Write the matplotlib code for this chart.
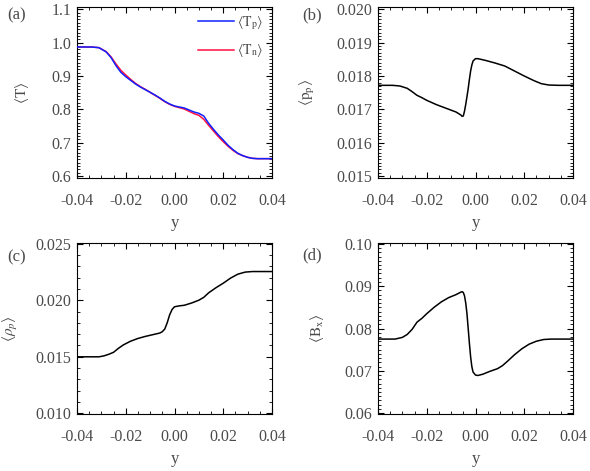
import matplotlib
matplotlib.use('Agg')
import matplotlib.pyplot as plt
from matplotlib.ticker import AutoMinorLocator, MultipleLocator, FuncFormatter

# values
y_a = [-0.040, -0.034, -0.031, -0.028, -0.026, -0.024, -0.022, -0.020, -0.018,
       -0.016, -0.014, -0.012, -0.010, -0.008, -0.006, -0.004, -0.002, 0.000,
       0.002, 0.004, 0.006, 0.008, 0.010, 0.012, 0.014, 0.016, 0.018, 0.020,
       0.022, 0.024, 0.026, 0.028, 0.030, 0.032, 0.034, 0.040]
t_p = [0.987, 0.987, 0.985, 0.972, 0.955, 0.931, 0.911, 0.898, 0.887,
       0.876, 0.867, 0.859, 0.851, 0.843, 0.834, 0.824, 0.816, 0.810,
       0.807, 0.804, 0.798, 0.792, 0.788, 0.780, 0.758, 0.740, 0.723, 0.708,
       0.692, 0.679, 0.668, 0.661, 0.656, 0.653, 0.652, 0.652]
t_n = [0.987, 0.987, 0.985, 0.973, 0.957, 0.936, 0.917, 0.903, 0.890,
       0.878, 0.868, 0.860, 0.851, 0.842, 0.833, 0.823, 0.815, 0.809,
       0.805, 0.801, 0.794, 0.787, 0.782, 0.770, 0.752, 0.735, 0.718, 0.703,
       0.689, 0.677, 0.667, 0.661, 0.656, 0.653, 0.652, 0.652]

y_b = [-0.040, -0.034, -0.031, -0.028, -0.026, -0.024, -0.022, -0.020, -0.016,
       -0.012, -0.008, -0.006, -0.0055, -0.0050, -0.0045, -0.0040, -0.0035,
       -0.0030, -0.0025, -0.0020, -0.0015, -0.0010, 0.000, 0.001, 0.004, 0.008,
       0.012, 0.016, 0.020, 0.024, 0.027, 0.030, 0.034, 0.040]
p_p = [0.01772, 0.01772, 0.01770, 0.01763, 0.01753, 0.01742, 0.01735, 0.01727, 0.01714,
       0.01703, 0.01692, 0.01683, 0.01679, 0.01680, 0.01695, 0.01715, 0.01738,
       0.01762, 0.01790, 0.01815, 0.01833, 0.01845, 0.01852, 0.01852, 0.01847, 0.01839,
       0.01830, 0.01815, 0.01800, 0.01786, 0.01777, 0.01773, 0.01772, 0.01772]

y_c = [-0.040, -0.031, -0.029, -0.027, -0.025, -0.023, -0.021, -0.018, -0.015,
       -0.012, -0.009, -0.006, -0.005, -0.004, -0.003, -0.002, -0.001, 0.000,
       0.002, 0.004, 0.007, 0.010, 0.012, 0.014, 0.017, 0.020, 0.023, 0.026,
       0.029, 0.032, 0.040]
rho_p = [0.01500, 0.01500, 0.01508, 0.01522, 0.01540, 0.01575, 0.01605, 0.01638, 0.01662,
         0.01680, 0.01695, 0.01710, 0.01722, 0.01745, 0.01800, 0.01870, 0.01918, 0.01942,
         0.01950, 0.01955, 0.01975, 0.02000, 0.02025, 0.02065, 0.02110, 0.02150, 0.02195, 0.02230,
         0.02248, 0.02253, 0.02253]

y_d = [-0.040, -0.033, -0.030, -0.028, -0.026, -0.024, -0.022, -0.020, -0.017,
       -0.014, -0.011, -0.008, -0.006, -0.0055, -0.0050, -0.0045, -0.0040, -0.0035,
       -0.0030, -0.0025, -0.0020, -0.0015, -0.0010, 0.000, 0.001, 0.003, 0.006,
       0.009, 0.011, 0.013, 0.016, 0.019, 0.022, 0.025, 0.028, 0.031, 0.040]
b_x = [0.0775, 0.0775, 0.0779, 0.0786, 0.0798, 0.0815, 0.0824, 0.0835, 0.0850,
       0.0863, 0.0873, 0.0880, 0.0886, 0.0887, 0.0885, 0.0877, 0.0860, 0.0835,
       0.0800, 0.0765, 0.0733, 0.0710, 0.0697, 0.0690, 0.0689, 0.0692, 0.0699,
       0.0705, 0.0712, 0.0722, 0.0738, 0.0752, 0.0763, 0.0770, 0.0774, 0.0775, 0.0775]

TEXT = '#4a4a4a'
plt.rcParams['font.family'] = ['Liberation Serif', 'DejaVu Serif']
plt.rcParams['mathtext.fontset'] = 'stix'


def style(ax, ylim, ymajor, yminor, yfmt, ylabel, label_x, tag, tag_x, tag_y):
    ax.set_xlim(-0.04, 0.04)
    ax.set_ylim(*ylim)
    ax.xaxis.set_major_locator(MultipleLocator(0.02))
    ax.xaxis.set_minor_locator(AutoMinorLocator(4))
    ax.yaxis.set_major_locator(MultipleLocator(ymajor))
    ax.yaxis.set_minor_locator(AutoMinorLocator(yminor))
    ax.xaxis.set_major_formatter(FuncFormatter(lambda v, p: '%.2f' % v))
    ax.yaxis.set_major_formatter(FuncFormatter(lambda v, p: yfmt % v))
    ax.tick_params(which='both', direction='in', top=True, right=True,
                   labelsize=11.5, labelcolor=TEXT)
    ax.tick_params(which='major', length=4, width=0.8)
    ax.tick_params(which='minor', length=2, width=0.6)
    ax.tick_params(axis='x', pad=11)
    ax.tick_params(axis='y', pad=4)
    ax.set_xlabel('y', fontsize=12, color=TEXT, labelpad=4)
    ax.set_ylabel(ylabel, fontsize=11, color=TEXT)
    ax.yaxis.set_label_coords(label_x, 0.5)
    ax.text(tag_x, tag_y, tag, transform=ax.transAxes, fontsize=12, color=TEXT,
            ha='left', va='top')


fig = plt.figure(figsize=(5.9, 4.71), dpi=100)
W, H = 195 / 590, 171 / 471
ax_a = fig.add_axes([77 / 590, 1 - 178 / 471, W, H])
ax_b = fig.add_axes([378 / 590, 1 - 178 / 471, W, H])
ax_c = fig.add_axes([77 / 590, 1 - 414 / 471, W, H])
ax_d = fig.add_axes([378 / 590, 1 - 414 / 471, W, H])

ax_a.plot(y_a, t_n, color='#ff1040', lw=1.1, label=r'$\langle \mathrm{T}_\mathrm{n} \rangle$', zorder=2)
ax_a.plot(y_a, t_p, color='#1020ff', lw=1.1, label=r'$\langle \mathrm{T}_\mathrm{p} \rangle$', zorder=3)
handles, labels = ax_a.get_legend_handles_labels()
ax_a.legend(handles[::-1], labels[::-1], loc='upper right', bbox_to_anchor=(1.02, 1.03),
            frameon=False, fontsize=10, handlelength=2.6, handletextpad=0.2,
            labelspacing=0.75, labelcolor=TEXT)
style(ax_a, (0.594, 1.107), 0.1, 10, '%.1f', r'$\langle \mathrm{T} \rangle$', -0.236,
      '(a)', -0.36, 1.0)

ax_b.plot(y_b, p_p, color='black', lw=1.1)
style(ax_b, (0.01494, 0.02007), 0.001, 10, '%.3f', r'$\langle \mathrm{p}_\mathrm{p} \rangle$', -0.313,
      '(b)', -0.39, 1.0)

ax_c.plot(y_c, rho_p, color='black', lw=1.1)
style(ax_c, (0.00995, 0.02505), 0.005, 5, '%.3f', r'$\langle \rho_p \rangle$', -0.29,
      '(c)', -0.36, 0.965)

ax_d.plot(y_d, b_x, color='black', lw=1.1)
style(ax_d, (0.0598, 0.1002), 0.01, 10, '%.2f', r'$\langle \mathrm{B}_\mathrm{x} \rangle$', -0.267,
      '(d)', -0.39, 0.975)

fig.savefig('out.png', dpi=100)
